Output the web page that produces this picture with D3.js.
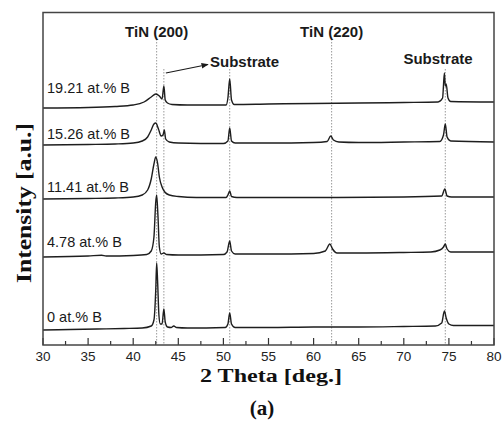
<!DOCTYPE html>
<html>
<head>
<meta charset="utf-8">
<script src="https://cdn.jsdelivr.net/npm/d3@7"></script>
<style>
  html, body { margin: 0; padding: 0; background: #fff; }
  svg { display: block; }
</style>
</head>
<body>
<svg id="chart" width="504" height="423"></svg>
<script>
// ---------------- DATA ----------------
const seriesLabels = ["0 at.% B", "4.78 at.% B", "11.41 at.% B", "15.26 at.% B", "19.21 at.% B"];
// vertical stacking offsets (a.u.)
const offsets = [15, 88, 146, 200, 237];

// [2theta, relative intensity (a.u.)]
const s0 = [[30,0],[33,0.5],[36,1],[39,1.5],[41,2],[42.0,4],[42.3,10],[42.5,40],[42.6,67],[42.7,50],[42.85,15],[43.0,6],[43.2,6],[43.4,21],[43.55,8],[43.8,3],[44.2,2.5],[44.5,4],[44.8,2.5],[46,2],[50.2,2.5],[50.5,6],[50.7,17],[50.9,6],[51.3,2.5],[55,2.5],[60,3],[62,3],[65,3],[70,3.5],[73.5,4],[74.2,7],[74.5,19],[74.7,12],[75.0,6],[75.5,4.5],[80,4.5]];
const s1 = [[30,0],[35,1],[36.5,1.8],[37,1],[40,1.5],[41.5,2.5],[42.0,6],[42.3,20],[42.5,55],[42.6,62],[42.75,40],[42.9,10],[43.1,3],[43.4,4],[43.7,2.5],[45,2],[50,2.5],[50.4,5],[50.7,16],[50.9,6],[51.3,3],[55,3],[60,3.5],[61.3,6],[61.8,13],[62.1,8],[62.6,4],[65,4],[70,4.5],[73,5],[74.0,7],[74.4,10],[74.6,13],[74.8,8],[75.2,5],[80,5]];
const s2 = [[30,0],[35,0.5],[38,1],[40,2],[41,4],[41.6,9],[42.0,20],[42.3,35],[42.5,42],[42.7,36],[42.9,22],[43.2,12],[43.5,7],[44,4],[45,2.5],[47,1.5],[50.3,1.5],[50.5,4],[50.7,8],[50.9,2.5],[51.5,1.5],[60,1.5],[70,2],[74.2,3],[74.55,10],[74.8,3],[75.3,2],[80,2]];
const s3 = [[30,0],[35,0.5],[38,1],[40,2],[41,4],[41.6,8],[42.0,15],[42.3,21],[42.5,22],[42.8,16],[43.1,9],[43.3,10],[43.45,15],[43.6,6],[44,3],[45,2],[50,1.5],[50.5,4],[50.7,17],[50.9,4],[51.3,2],[55,2],[60,2.5],[61.5,3.5],[61.9,9],[62.2,5],[62.8,3],[65,2.5],[70,3],[74.0,3.5],[74.4,10],[74.6,21],[74.8,8],[75.2,4],[80,3]];
const s4 = [[30,0],[35,0.5],[38,1.5],[40,3],[41.2,6],[42.0,11],[42.5,14],[42.9,12],[43.2,9],[43.4,22],[43.55,8],[43.8,5],[44.3,3.5],[46,3],[50.3,3],[50.5,10],[50.7,29],[50.9,8],[51.2,3.5],[55,4],[60,4.5],[65,5],[70,5.5],[73.8,6],[74.3,10],[74.5,35],[74.6,22],[74.7,24],[74.9,10],[75.2,6.5],[80,6]];
const seriesData = [s0, s1, s2, s3, s4];

// reference peak lines
const tinPeaks = [42.6, 62.0];
const tinLabels = ["TiN (200)", "TiN (220)"];
const substratePeaks = [43.4, 50.7, 74.6];

const xTicks = [30, 35, 40, 45, 50, 55, 60, 65, 70, 75, 80];
const xDomain = [30, 80];
const yDomain = [0, 332.5];

// ---------------- DRAW ----------------
const svg = d3.select("#chart");
const L = 43, R = 494, T = 12.5, B = 345;
const x = d3.scaleLinear().domain(xDomain).range([L, R]);
const y = d3.scaleLinear().domain(yDomain).range([B, T]);

// dotted reference lines
const dotStyle = g => g.attr("stroke", "#9a9a9a").attr("stroke-width", 1).attr("stroke-dasharray", "1.5,1.5");
svg.selectAll("line.tin").data(tinPeaks).join("line").attr("class", "tin")
  .attr("x1", d => x(d)).attr("x2", d => x(d)).attr("y1", 39).attr("y2", B).call(dotStyle);
svg.selectAll("line.sub").data(substratePeaks).join("line").attr("class", "sub")
  .attr("x1", d => x(d)).attr("x2", d => x(d)).attr("y1", 69).attr("y2", B).call(dotStyle);

// x axis ticks (inside, major+minor)
const minor = d3.range(32.5, 80, 5);
svg.selectAll("line.minor").data(minor).join("line").attr("class", "minor")
  .attr("x1", d => x(d)).attr("x2", d => x(d)).attr("y1", B).attr("y2", B - 4)
  .attr("stroke", "#333").attr("stroke-width", 1.2);
svg.selectAll("line.major").data(xTicks).join("line").attr("class", "major")
  .attr("x1", d => x(d)).attr("x2", d => x(d)).attr("y1", B).attr("y2", B - 7)
  .attr("stroke", "#333").attr("stroke-width", 1.2);
svg.selectAll("text.tick").data(xTicks).join("text").attr("class", "tick")
  .attr("x", d => x(d)).attr("y", 361).attr("text-anchor", "middle")
  .attr("font-family", "Arial, 'Liberation Sans', sans-serif").attr("font-size", 13.5)
  .attr("fill", "#222").text(d => d);

// traces
const line = d3.line().x(d => x(d[0])).curve(d3.curveMonotoneX);
seriesData.forEach((s, i) => {
  svg.append("path")
    .attr("d", line.y(d => y(d[1] + offsets[i]))(s))
    .attr("fill", "none").attr("stroke", "#1e1e1e").attr("stroke-width", 1.4)
    .attr("stroke-linejoin", "round");
});

// series labels
const labelY = [322, 247, 192, 139, 93];
svg.selectAll("text.slabel").data(seriesLabels).join("text").attr("class", "slabel")
  .attr("x", 47).attr("y", (d, i) => labelY[i])
  .attr("font-family", "Arial, 'Liberation Sans', sans-serif").attr("font-size", 14.5)
  .attr("fill", "#1a1a1a").text(d => d);

// frame
svg.append("rect").attr("x", L).attr("y", T).attr("width", R - L).attr("height", B - T)
  .attr("fill", "none").attr("stroke", "#444").attr("stroke-width", 1.5);

// annotations
const bold = { "font-family": "Arial, 'Liberation Sans', sans-serif", "font-size": 15, "font-weight": "bold", "fill": "#1a1a1a" };
svg.selectAll("text.tin").data(tinPeaks).join("text").attr("class", "tin")
  .attr("x", d => x(d)).attr("y", 37).attr("text-anchor", "middle")
  .each(function () { const t = d3.select(this); for (const k in bold) t.attr(k, bold[k]); })
  .text((d, i) => tinLabels[i]);

const sub1 = svg.append("text").attr("x", 210).attr("y", 67).text("Substrate");
const sub2 = svg.append("text").attr("x", 438).attr("y", 64).attr("text-anchor", "middle").text("Substrate");
[sub1, sub2].forEach(t => { for (const k in bold) t.attr(k, bold[k]); });

// arrow
svg.append("defs").append("marker").attr("id", "ah").attr("viewBox", "0 0 10 10")
  .attr("refX", 9).attr("refY", 5).attr("markerWidth", 6).attr("markerHeight", 6)
  .attr("orient", "auto").append("path").attr("d", "M0,1 L10,5 L0,9 Z").attr("fill", "#1a1a1a");
svg.append("line").attr("x1", x(43.4) + 2).attr("y1", 73).attr("x2", 208).attr("y2", 64.5)
  .attr("stroke", "#1a1a1a").attr("stroke-width", 1.2).attr("marker-end", "url(#ah)");

// axis titles
svg.append("text").attr("x", 271).attr("y", 382).attr("text-anchor", "middle")
  .attr("font-family", "'Liberation Serif', 'Times New Roman', serif").attr("font-weight", "bold")
  .attr("font-size", 19.5).attr("textLength", 142).attr("lengthAdjust", "spacingAndGlyphs")
  .attr("fill", "#111").text("2 Theta [deg.]");
svg.append("text").attr("x", 262).attr("y", 415).attr("text-anchor", "middle")
  .attr("font-family", "'Liberation Serif', 'Times New Roman', serif").attr("font-weight", "bold")
  .attr("font-size", 21).attr("fill", "#111").text("(a)");
svg.append("text").attr("transform", "translate(31,203) rotate(-90)").attr("text-anchor", "middle")
  .attr("font-family", "'Liberation Serif', 'Times New Roman', serif").attr("font-weight", "bold")
  .attr("font-size", 22).attr("textLength", 160).attr("lengthAdjust", "spacingAndGlyphs")
  .attr("fill", "#111").text("Intensity [a.u.]");
</script>
</body>
</html>
